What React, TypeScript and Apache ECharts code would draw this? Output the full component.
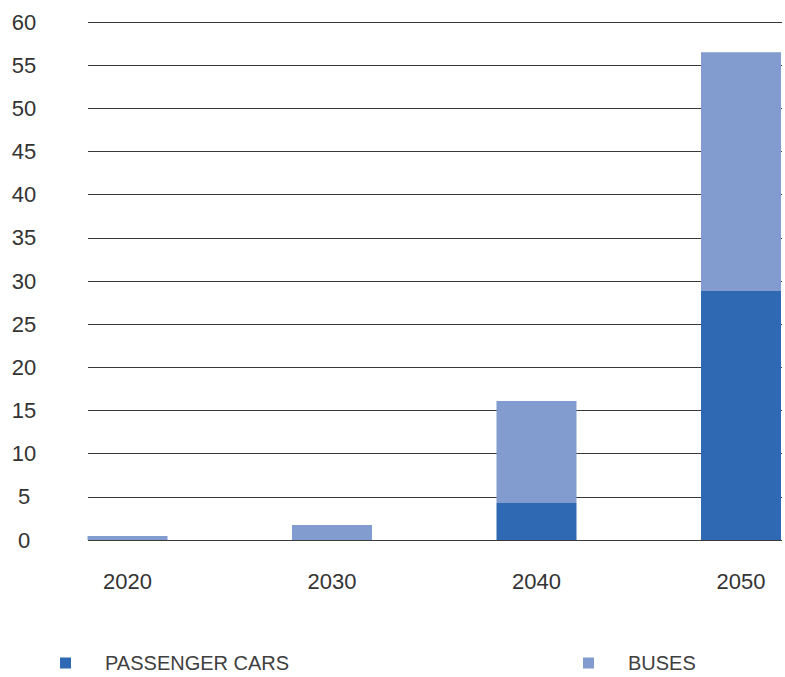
import React, { useEffect, useRef } from "react";
import * as echarts from "echarts";

const categories = ["2020", "2030", "2040", "2050"];
const passengerCars = [0, 0, 4.3, 28.85];
const buses = [0.45, 1.74, 11.8, 27.65];
const yTicks = { min: 0, max: 60, interval: 5 };

const FONT = "'Liberation Sans', Arial, sans-serif";
const DARK = "#2F69B3";
const LIGHT = "#829CD0";
const TEXT = "#333333";

export default function App() {
  const ref = useRef<HTMLDivElement>(null);
  useEffect(() => {
    if (!ref.current) return;
    const chart = echarts.init(ref.current, undefined, { renderer: "svg" });
    const icon = "path://M0,0L11,0L11,11L0,11Z M40,0L40,0.01";
    chart.setOption({
      animation: false,
      textStyle: { fontFamily: FONT },
      grid: [
        { left: 88, right: 3, top: 22, bottom: 137 },
        { left: 127.5, right: 44, top: 22, bottom: 137 },
      ],
      legend: [
        {
          left: 60,
          top: 653,
          padding: 0,
          data: ["PASSENGER CARS"],
          icon,
          itemWidth: 40,
          itemHeight: 11,
          textStyle: { fontSize: 20, color: "#404040", fontFamily: FONT },
        },
        {
          left: 583,
          top: 653,
          padding: 0,
          data: ["BUSES"],
          icon,
          itemWidth: 40,
          itemHeight: 11,
          textStyle: { fontSize: 20, color: "#404040", fontFamily: FONT },
        },
      ],
      xAxis: [
        {
          gridIndex: 0,
          type: "category",
          data: categories,
          axisLine: { show: false },
          axisTick: { show: false },
          axisLabel: { show: false },
        },
        {
          gridIndex: 1,
          type: "category",
          data: categories,
          boundaryGap: false,
          axisLine: { show: false },
          axisTick: { show: false },
          axisLabel: { fontSize: 22, color: TEXT, margin: 30, fontFamily: FONT },
        },
      ],
      yAxis: [
        {
          gridIndex: 0,
          type: "value",
          min: yTicks.min,
          max: yTicks.max,
          interval: yTicks.interval,
          axisLine: { show: false },
          axisTick: { show: false },
          axisLabel: {
            fontSize: 22,
            color: TEXT,
            margin: 64,
            align: "center",
            fontFamily: FONT,
          },
          splitLine: { lineStyle: { color: "#3a3a3a", width: 1 } },
        },
        {
          gridIndex: 1,
          type: "value",
          min: yTicks.min,
          max: yTicks.max,
          interval: yTicks.interval,
          show: false,
          splitLine: { show: false },
        },
      ],
      series: [
        {
          name: "PASSENGER CARS",
          type: "bar",
          stack: "total",
          xAxisIndex: 1,
          yAxisIndex: 1,
          barWidth: 80,
          data: passengerCars,
          itemStyle: { color: DARK },
        },
        {
          name: "BUSES",
          type: "bar",
          stack: "total",
          xAxisIndex: 1,
          yAxisIndex: 1,
          barWidth: 80,
          data: buses,
          itemStyle: { color: LIGHT },
        },
      ],
    });
    return () => chart.dispose();
  }, []);
  return (
    <div
      ref={ref}
      style={{ position: "absolute", left: 0, top: 0, width: 785, height: 677 }}
    />
  );
}
